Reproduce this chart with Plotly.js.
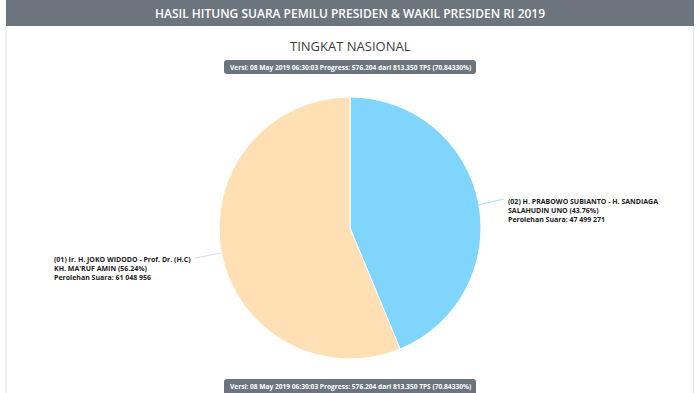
<!DOCTYPE html>
<html>
<head>
<meta charset="utf-8">
<script src="https://cdn.plot.ly/plotly-3.0.1.min.js"></script>
<style>
html,body{margin:0;padding:0;background:#fff;}
#chart{width:700px;height:393px;}
</style>
</head>
<body>
<div id="chart"></div>
<script>
// ---- data ----
var candidates = ["(02) H. PRABOWO SUBIANTO - H. SANDIAGA<br>SALAHUDIN UNO", "(01) Ir. H. JOKO WIDODO - Prof. Dr. (H.C)<br>KH. MA'RUF AMIN"];
var votes = [47499271, 61048956];
var percents = ["43.76%", "56.24%"];
var colors = ["#80d5fc", "#fee0b4"];
var headerText = "HASIL HITUNG SUARA PEMILU PRESIDEN & WAKIL PRESIDEN RI 2019";
var chartTitle = "TINGKAT NASIONAL";
var versionText = "Versi: 08 May 2019 06:30:03 Progress: 576.204 dari 813.350 TPS (70.84330%)";

var W = 700, H = 393;
function px(x){return x/W;}
function py(y){return 1 - y/H;}
function fmt(n){return String(n).replace(/\B(?=(\d{3})+(?!\d))/g, " ");}
function roundRect(x0,y0,x1,y1,r){
  var rx=r/W, ry=r/H;
  var X0=px(x0),X1=px(x1),Y0=py(y0),Y1=py(y1);
  return "M"+(X0+rx)+","+Y0+" L"+(X1-rx)+","+Y0+" Q"+X1+","+Y0+" "+X1+","+(Y0-ry)+
    " L"+X1+","+(Y1+ry)+" Q"+X1+","+Y1+" "+(X1-rx)+","+Y1+
    " L"+(X0+rx)+","+Y1+" Q"+X0+","+Y1+" "+X0+","+(Y1+ry)+
    " L"+X0+","+(Y0-ry)+" Q"+X0+","+Y0+" "+(X0+rx)+","+Y0+" Z";
}

var trace = {
  type: "pie",
  values: votes,
  labels: candidates,
  marker: {colors: colors, line: {color: "#ffffff", width: 1}},
  sort: false,
  direction: "clockwise",
  rotation: 0,
  textinfo: "none",
  hoverinfo: "none",
  showlegend: false,
  domain: {x: [px(219), px(481)], y: [py(359), py(97)]}
};

var labelFont = {family: "Open Sans, sans-serif", size: 7, color: "#1a1a1a", weight: 700};

var layout = {
  width: W, height: H,
  margin: {l:0, r:0, t:0, b:0},
  paper_bgcolor: "#ffffff",
  shapes: [
    {type:"rect", xref:"paper", yref:"paper", x0:px(6), x1:px(694), y0:py(26), y1:1, fillcolor:"#6c757d", line:{width:0}, layer:"below"},
    {type:"line", xref:"paper", yref:"paper", x0:px(6), x1:px(6), y0:0, y1:py(26), line:{color:"#e3e3e3", width:1}},
    {type:"line", xref:"paper", yref:"paper", x0:px(693.5), x1:px(693.5), y0:0, y1:py(26), line:{color:"#e3e3e3", width:1}},
    {type:"path", xref:"paper", yref:"paper", path: roundRect(224,60,476,74,3), fillcolor:"#6c757d", line:{width:0}},
    {type:"path", xref:"paper", yref:"paper", path: roundRect(224,379,476,396,3), fillcolor:"#6c757d", line:{width:0}},
    {type:"line", xref:"paper", yref:"paper", x0:px(478), y0:py(205), x1:px(504), y1:py(199), line:{color:"#a9def5", width:1}},
    {type:"line", xref:"paper", yref:"paper", x0:px(221), y0:py(253), x1:px(195), y1:py(258), line:{color:"#dcdcdc", width:1}}
  ],
  annotations: [
    {xref:"paper", yref:"paper", x:0.5, y:py(13), text: headerText, showarrow:false, xanchor:"center", yanchor:"middle",
     font:{family:"Open Sans, sans-serif", size:12, color:"#ffffff", weight:600}},
    {xref:"paper", yref:"paper", x:0.5, y:py(46), text: chartTitle, showarrow:false, xanchor:"center", yanchor:"middle",
     font:{family:"Open Sans, sans-serif", size:13, color:"#3d3d3d"}},
    {xref:"paper", yref:"paper", x:0.5, y:py(67), text: versionText, showarrow:false, xanchor:"center", yanchor:"middle",
     font:{family:"Open Sans, sans-serif", size:6.6, color:"#ffffff", weight:700}},
    {xref:"paper", yref:"paper", x:0.5, y:py(386), text: versionText, showarrow:false, xanchor:"center", yanchor:"middle",
     font:{family:"Open Sans, sans-serif", size:6.6, color:"#ffffff", weight:700}},
    {xref:"paper", yref:"paper", x:px(52), y:py(253), text: candidates[1]+" ("+percents[1]+")<br>Perolehan Suara: "+fmt(votes[1]),
     showarrow:false, xanchor:"left", yanchor:"top", align:"left", font: labelFont},
    {xref:"paper", yref:"paper", x:px(506), y:py(195), text: candidates[0]+" ("+percents[0]+")<br>Perolehan Suara: "+fmt(votes[0]),
     showarrow:false, xanchor:"left", yanchor:"top", align:"left", font: labelFont}
  ]
};

Plotly.newPlot("chart", [trace], layout, {displayModeBar:false, staticPlot:true});
</script>
</body>
</html>
